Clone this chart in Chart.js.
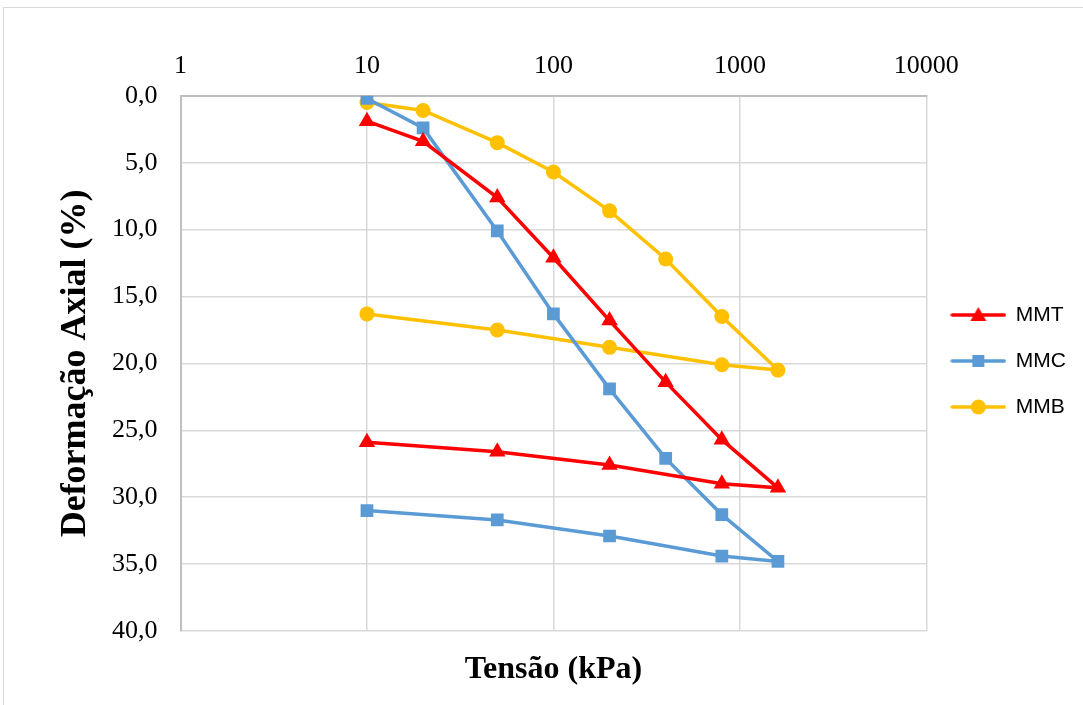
<!DOCTYPE html>
<html>
<head>
<meta charset="utf-8">
<script src="https://cdn.jsdelivr.net/npm/chart.js@4.4.1/dist/chart.umd.min.js"></script>
<style>
  html, body { margin: 0; padding: 0; background: #fff; overflow: hidden; }
  #frame { position: absolute; left: 3px; top: 7px; width: 1100px; height: 720px; border: 1px solid #d9d9d9; }
  #wrap { position: absolute; left: 0; top: 0; width: 1083px; height: 705px; }
</style>
</head>
<body>
<div id="frame"></div>
<div id="wrap"><canvas id="chart" width="1083" height="705"></canvas></div>
<script>
// tensões (kPa) - carga e descarga
const tensaoCarga = [10, 20, 50, 100, 200, 400, 800, 1600]
const tensaoDescarga = [800, 200, 50, 10]
const xTicks = [1, 10, 100, 1000, 10000]

// deformação axial (%)
const mmtCarga = [1.9, 3.4, 7.6, 12.1, 16.8, 21.4, 25.7, 29.3]
const mmtDescarga = [29.0, 27.6, 26.6, 25.9]
const mmcCarga = [0.2, 2.4, 10.1, 16.3, 21.9, 27.1, 31.3, 34.8]
const mmcDescarga = [34.4, 32.9, 31.7, 31.0]
const mmbCarga = [0.5, 1.1, 3.5, 5.7, 8.6, 12.2, 16.5, 20.5]
const mmbDescarga = [20.1, 18.8, 17.5, 16.3]

const corMMT = '#FF0000'
const corMMC = '#5B9BD5'
const corMMB = '#FFC000'

function caminho (carga, descarga) {
  const pts = tensaoCarga.map((x, i) => ({ x: x, y: carga[i] }))
  tensaoDescarga.forEach((x, i) => pts.push({ x: x, y: descarga[i] }))
  return pts
}

// icone da legenda: linha + marcador
function iconeLegenda (cor, estilo) {
  const c = document.createElement('canvas')
  c.width = 56; c.height = 22
  const g = c.getContext('2d')
  g.strokeStyle = cor
  g.lineWidth = 3.5
  g.lineCap = 'round'
  g.beginPath(); g.moveTo(2, 11); g.lineTo(54, 11); g.stroke()
  g.fillStyle = cor
  g.beginPath()
  if (estilo === 'triangle') {
    g.moveTo(28, 3); g.lineTo(36, 17); g.lineTo(20, 17); g.closePath()
  } else if (estilo === 'rect') {
    g.rect(22, 5, 12, 12)
  } else {
    g.arc(28, 11, 7.5, 0, Math.PI * 2)
  }
  g.fill()
  return c
}

function ds (label, cor, estilo, raio, pts) {
  return {
    label: label,
    data: pts,
    showLine: true,
    borderColor: cor,
    backgroundColor: cor,
    borderWidth: 3.5,
    pointStyle: estilo,
    pointRadius: raio,
    pointHoverRadius: raio,
    pointBorderWidth: 0,
    tension: 0,
    xAxisID: 'x',
    yAxisID: 'y'
  }
}

const serif = 'Liberation Serif'

new Chart(document.getElementById('chart'), {
  type: 'scatter',
  data: {
    datasets: [
      ds('MMT', corMMT, 'triangle', 9.5, caminho(mmtCarga, mmtDescarga)),
      ds('MMC', corMMC, 'rect', 9, caminho(mmcCarga, mmcDescarga)),
      ds('MMB', corMMB, 'circle', 7.5, caminho(mmbCarga, mmbDescarga))
    ]
  },
  options: {
    responsive: false,
    animation: false,
    layout: { padding: { top: 36, left: 38, right: 7, bottom: 19 } },
    plugins: {
      tooltip: { enabled: false },
      legend: {
        position: 'right',
        labels: {
          usePointStyle: true,
          pointStyleWidth: 54,
          padding: 25,
          color: '#000',
          font: { family: 'Liberation Sans', size: 21 },
          generateLabels: (chart) => chart.data.datasets.map((d, i) => ({
            text: d.label,
            pointStyle: iconeLegenda(d.borderColor, d.pointStyle),
            fillStyle: d.borderColor,
            strokeStyle: d.borderColor,
            lineWidth: 0,
            hidden: false,
            datasetIndex: i
          }))
        }
      }
    },
    scales: {
      x: {
        type: 'logarithmic',
        position: 'top',
        min: 1,
        max: 10000,
        afterBuildTicks: (axis) => { axis.ticks = xTicks.map(v => ({ value: v })) },
        ticks: {
          color: '#000',
          padding: 0,
          maxRotation: 0,
          font: { family: serif, size: 26, lineHeight: 2.3 },
          callback: (v) => String(v)
        },
        grid: { color: '#d9d9d9', lineWidth: 1.5, drawTicks: false },
        border: { color: '#bfbfbf', width: 2 }
      },
      xb: {
        type: 'logarithmic',
        position: 'bottom',
        min: 1,
        max: 10000,
        ticks: { display: false },
        grid: { display: false, drawTicks: false },
        border: { display: false },
        title: {
          display: true,
          text: 'Tensão (kPa)',
          color: '#000',
          padding: { top: 23, bottom: 0 },
          font: { family: serif, size: 32, weight: 'bold', lineHeight: 1 }
        }
      },
      y: {
        reverse: true,
        min: 0,
        max: 40,
        ticks: {
          stepSize: 5,
          color: '#000',
          padding: 23,
          font: { family: serif, size: 26 },
          callback: (v) => v.toFixed(1).replace('.', ',')
        },
        grid: { color: '#d9d9d9', lineWidth: 1.5, drawTicks: false },
        border: { color: '#bfbfbf', width: 2 },
        title: {
          display: true,
          text: 'Deformação Axial (%)',
          color: '#000',
          padding: { top: 24, bottom: 0 },
          font: { family: serif, size: 36, weight: 'bold', lineHeight: 0.75 }
        }
      }
    }
  }
})
</script>
</body>
</html>
